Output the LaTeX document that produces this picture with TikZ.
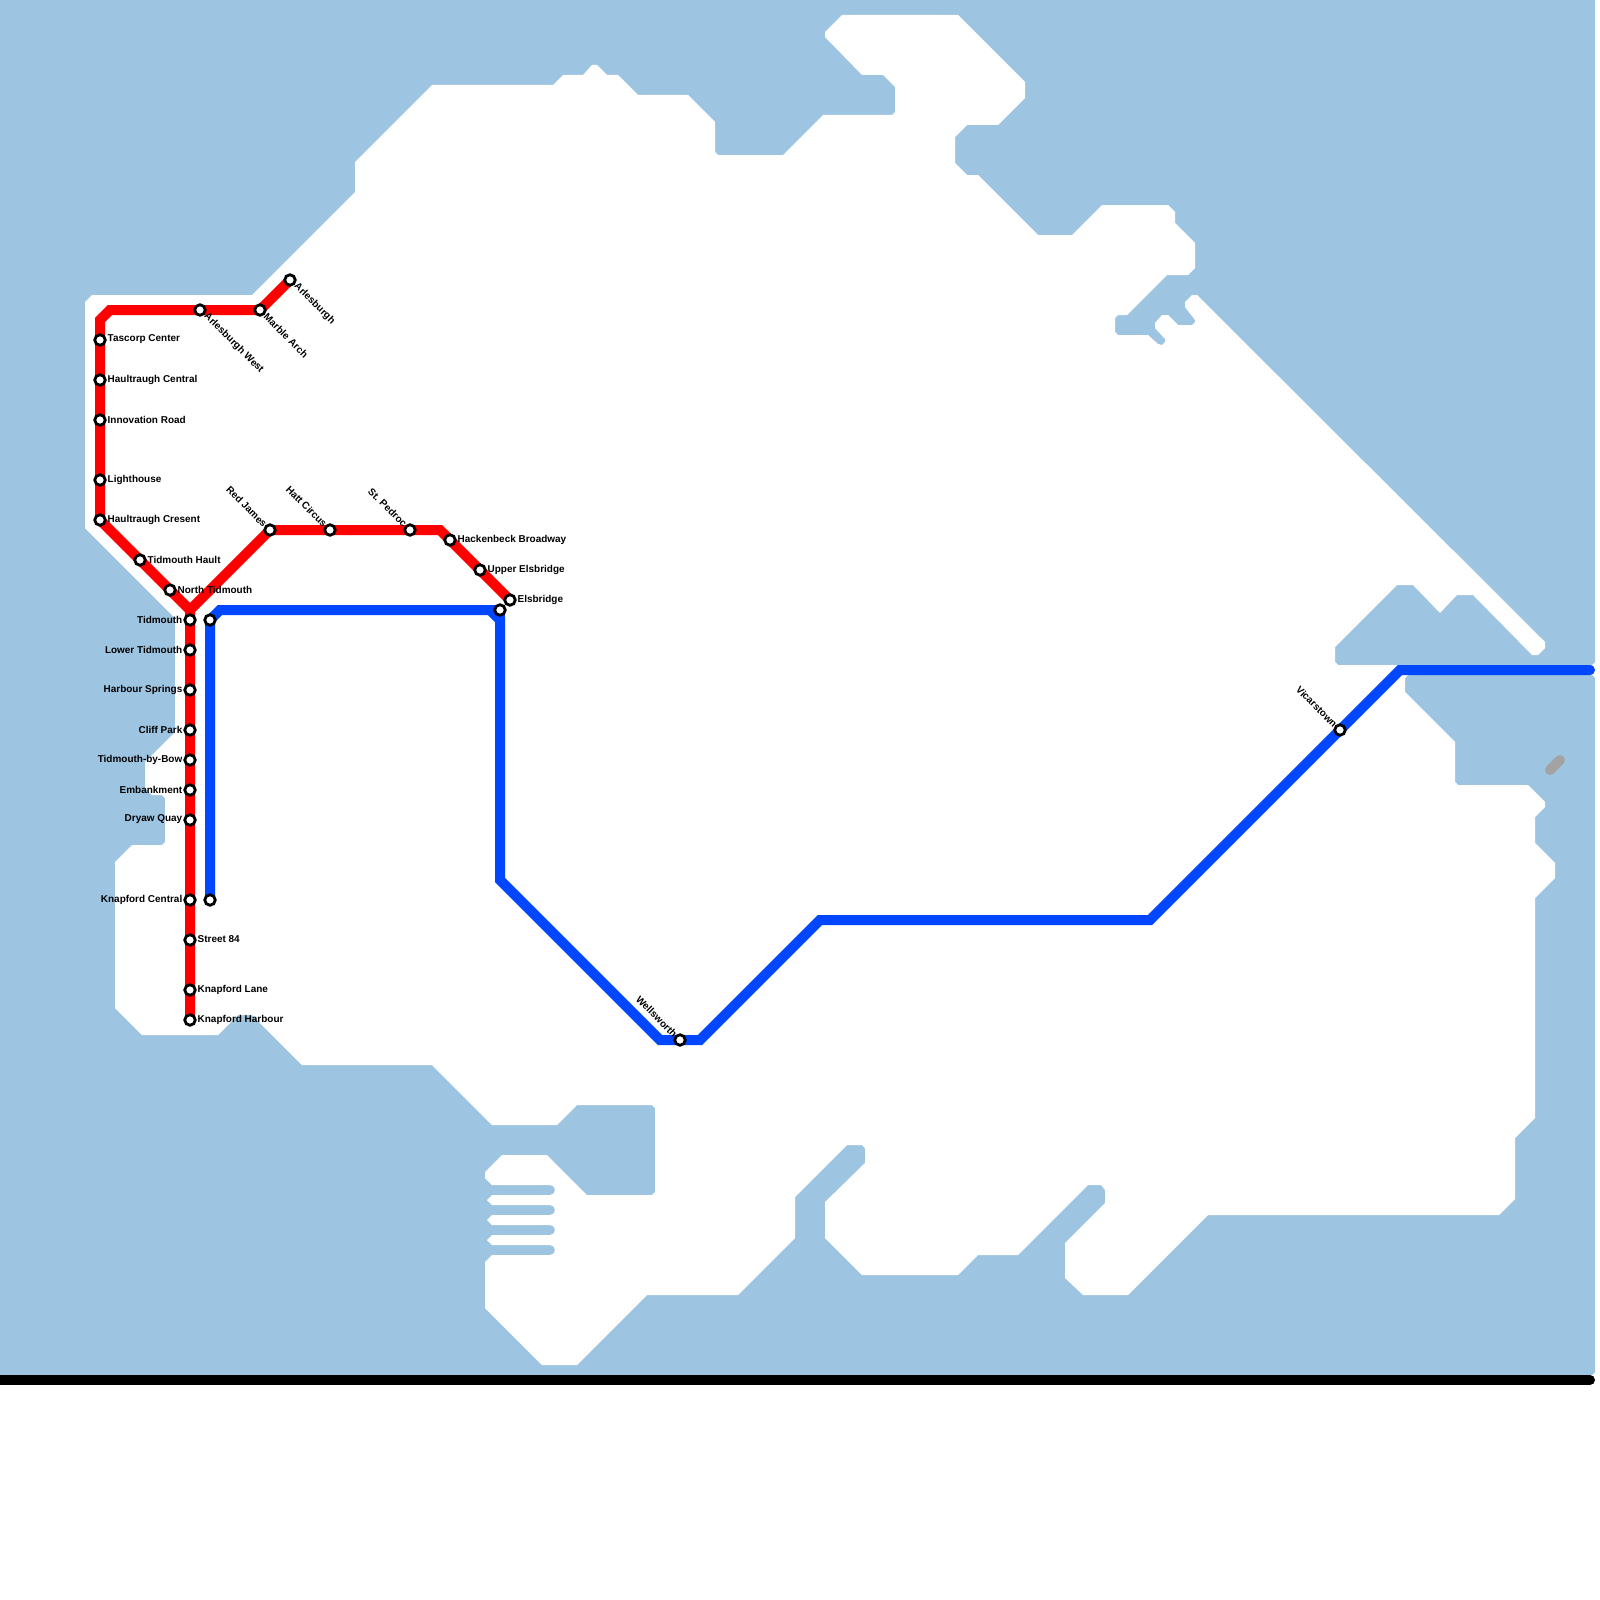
\documentclass[tikz,border=0pt]{standalone}
\usepackage{fontspec}
\setmainfont{Liberation Sans}
\definecolor{water}{HTML}{9DC5E1}
\definecolor{redline}{HTML}{FF0000}
\definecolor{blueline}{HTML}{0047FF}
\definecolor{greyline}{HTML}{A3A3A3}
\tikzset{
  route/.style={line width=10bp,line join=miter,line cap=round},
  st/.style={circle,draw=black,fill=white,line width=2.8bp,minimum size=10.5bp,inner sep=0pt},
  lbl/.style={font=\fontsize{10}{12}\selectfont\bfseries,text=black,inner sep=0pt},
  lblr/.style={lbl,anchor=west},
  lbll/.style={lbl,anchor=east},
  lbldr/.style={lbl,anchor=west,rotate=-45},
  lblul/.style={lbl,anchor=east,rotate=-45}
}
\begin{document}
\begin{tikzpicture}[x=1bp,y=-1bp]
\useasboundingbox (0,0) rectangle (1600,1600);
\fill[white] (0,0) rectangle (1600,1600);
\fill[water] (0,0)--(1595,0)--(1595,662)--(1592,665)--(1592,675)--(1595,678)--(1595,1372)--(1592,1375)--(0,1375)--cycle;
% land
\fill[white] (85,302)--(92,295)--(252,295)--(355,192)--(355,162)--(432,85)--(553,85)--(563,75)--(583,75)--(592,65)--(597,65)--(607,75)--(618,75)--(638,95)--(688,95)--(715,122)--(715,152)--(718,155)--(783,155)--(823,115)--(892,115)--(895,112)--(895,87)--(883,75)--(862,75)--(825,37)--(825,32)--(842,15)--(958,15)--(1025,82)--(1025,98)--(998,125)--(967,125)--(955,137)--(955,163)--(967,175)--(978,175)--(1038,235)--(1072,235)--(1102,205)--(1168,205)--(1175,212)--(1175,223)--(1195,243)--(1195,268)--(1188,275)--(1167,275)--(1127,315)--(1118,315)--(1115,318)--(1115,332)--(1118,335)--(1148,335)--(1158,344)--(1162,345)--(1165,342)--(1165,339)--(1155,328)--(1155,323)--(1162,315)--(1168,315)--(1178,325)--(1192,325)--(1195,322)--(1195,320)--(1185,307)--(1185,302)--(1192,295)--(1197,295)--(1545,642)--(1545,648)--(1538,655)--(1532,655)--(1473,595)--(1457,595)--(1440,613)--(1413,585)--(1397,585)--(1335,647)--(1335,662)--(1338,665)--(1410,665)--(1410,675)--(1408,675)--(1405,678)--(1405,692)--(1455,742)--(1455,782)--(1458,785)--(1528,785)--(1545,802)--(1545,807)--(1535,817)--(1535,843)--(1555,863)--(1555,878)--(1535,898)--(1535,1118)--(1515,1138)--(1515,1199)--(1499,1215)--(1208,1215)--(1128,1295)--(1083,1295)--(1065,1278)--(1065,1243)--(1105,1203)--(1105,1190)--(1101,1185)--(1088,1185)--(1018,1255)--(978,1255)--(958,1275)--(862,1275)--(825,1238)--(825,1202)--(865,1163)--(865,1148)--(862,1145)--(847,1145)--(795,1197)--(795,1238)--(738,1295)--(647,1295)--(577,1365)--(542,1365)--(485,1308)--(485,1262)--(492,1255)--(550,1255)--(553.5,1253.5)--(555,1250)--(553.5,1246.5)--(550,1245)--(492,1245)--(487,1240)--(492,1235)--(550,1235)--(553.5,1233.5)--(555,1230)--(553.5,1226.5)--(550,1225)--(492,1225)--(487,1220)--(492,1215)--(550,1215)--(553.5,1213.5)--(555,1210)--(553.5,1206.5)--(550,1205)--(492,1205)--(487,1200)--(492,1195)--(550,1195)--(553.5,1193.5)--(555,1190)--(553.5,1186.5)--(550,1185)--(492,1185)--(485,1178)--(485,1172)--(502,1155)--(547,1155)--(587,1195)--(652,1195)--(655,1192)--(655,1108)--(652,1105)--(577,1105)--(557,1125)--(492,1125)--(432,1065)--(302,1065)--(252,1015)--(238,1015)--(218,1035)--(142,1035)--(115,1008)--(115,862)--(132,845)--(162,845)--(165,842)--(165,798)--(162,795)--(152,795)--(145,788)--(145,762)--(175,732)--(175,618)--(85,528)--cycle;
% black and grey
\coordinate (bl0) at (-10,1380); \coordinate (bl1) at (1590,1380);
\draw[route,black] (bl0)--(bl1);
\coordinate (gr0) at (1550,770); \coordinate (gr1) at (1560,760);
\draw[route,greyline] (gr0)--(gr1);
% route points
\coordinate (arl) at (290,280); \coordinate (marble) at (260,310);
\coordinate (r1) at (110,310); \coordinate (r2) at (100,320);
\coordinate (hcres) at (100,520); \coordinate (rj) at (190,610);
\coordinate (kh) at (190,1020); \coordinate (rjames) at (270,530);
\coordinate (r3) at (440,530); \coordinate (els) at (510,600);
\coordinate (b0) at (210,900); \coordinate (b1) at (210,620); \coordinate (b2) at (220,610);
\coordinate (b3) at (490,610); \coordinate (b4) at (500,620); \coordinate (b5) at (500,880);
\coordinate (b6) at (660,1040); \coordinate (b7) at (700,1040); \coordinate (b8) at (820,920);
\coordinate (b9) at (1150,920); \coordinate (b10) at (1400,670); \coordinate (b11) at (1590,670);
\coordinate (bels) at (500,610);
\draw[route,blueline] (b0)--(b1)--(b2)--(b3)--(b4)--(b5)--(b6)--(b7)--(b8)--(b9)--(b10)--(b11);
\draw[route,blueline] (b3)--(bels)--(b4);
\draw[route,redline] (arl)--(marble)--(r1)--(r2)--(hcres)--(rj)--(kh);
\draw[route,redline] (rj)--(rjames)--(r3)--(els);
% stations
\node[st] (s01) at (arl) {};
\node[st] (s02) at (marble) {};
\node[st] (s03) at (200,310) {};
\node[st] (s04) at (100,340) {};
\node[st] (s05) at (100,380) {};
\node[st] (s06) at (100,420) {};
\node[st] (s07) at (100,480) {};
\node[st] (s08) at (hcres) {};
\node[st] (s09) at (140,560) {};
\node[st] (s10) at (170,590) {};
\node[st] (s11) at (190,620) {};
\node[st] (s12) at (190,650) {};
\node[st] (s13) at (190,690) {};
\node[st] (s14) at (190,730) {};
\node[st] (s15) at (190,760) {};
\node[st] (s16) at (190,790) {};
\node[st] (s17) at (190,820) {};
\node[st] (s18) at (190,900) {};
\node[st] (s19) at (190,940) {};
\node[st] (s20) at (190,990) {};
\node[st] (s21) at (kh) {};
\node[st] (s22) at (rjames) {};
\node[st] (s23) at (330,530) {};
\node[st] (s24) at (410,530) {};
\node[st] (s25) at (450,540) {};
\node[st] (s26) at (480,570) {};
\node[st] (s27) at (els) {};
\node[st] (s28) at (b1) {};
\node[st] (s29) at (b0) {};
\node[st] (s30) at (bels) {};
\node[st] (s31) at (680,1040) {};
\node[st] (s32) at (1340,730) {};
% labels
\node[lbldr] (t01) at (295.5,285) {Arlesburgh};
\node[lbldr] (t02) at (265.5,315) {Marble Arch};
\node[lbldr] (t03) at (205.5,315) {Arlesburgh West};
\node[lblr] (t04) at (107.5,339.5) {Tascorp Center};
\node[lblr] (t05) at (107.5,379.5) {Haultraugh Central};
\node[lblr] (t06) at (107.5,419.5) {Innovation Road};
\node[lblr] (t07) at (107.5,479.5) {Lighthouse};
\node[lblr] (t08) at (107.5,519.5) {Haultraugh Cresent};
\node[lblr] (t09) at (147.5,559.5) {Tidmouth Hault};
\node[lblr] (t10) at (177.5,589.5) {North Tidmouth};
\node[lbll] (t11) at (182.5,619.5) {Tidmouth};
\node[lbll] (t12) at (182.5,649.5) {Lower Tidmouth};
\node[lbll] (t13) at (182.5,689.5) {Harbour Springs};
\node[lbll] (t14) at (182.5,729.5) {Cliff Park};
\node[lbll] (t15) at (182.5,759.5) {Tidmouth-by-Bow};
\node[lbll] (t16) at (182.5,789.5) {Embankment};
\node[lbll] (t17) at (182.5,819.5) {Dryaw Quay};
\node[lbll] (t18) at (182.5,899.5) {Knapford Central};
\node[lblr] (t19) at (197.5,939.5) {Street 84};
\node[lblr] (t20) at (197.5,989.5) {Knapford Lane};
\node[lblr] (t21) at (197.5,1019.5) {Knapford Harbour};
\node[lblul] (t22) at (265.5,525.5) {Red James};
\node[lblul] (t23) at (325.5,525.5) {Hatt Circus};
\node[lblul] (t24) at (405.5,525.5) {St. Pedroc};
\node[lblr] (t25) at (457.5,539.5) {Hackenbeck Broadway};
\node[lblr] (t26) at (487.5,569.5) {Upper Elsbridge};
\node[lblr] (t27) at (517.5,599.5) {Elsbridge};
\node[lblul] (t28) at (675.5,1035.5) {Wellsworth};
\node[lblul] (t29) at (1335.5,725.5) {Vicarstown};
\end{tikzpicture}
\end{document}
